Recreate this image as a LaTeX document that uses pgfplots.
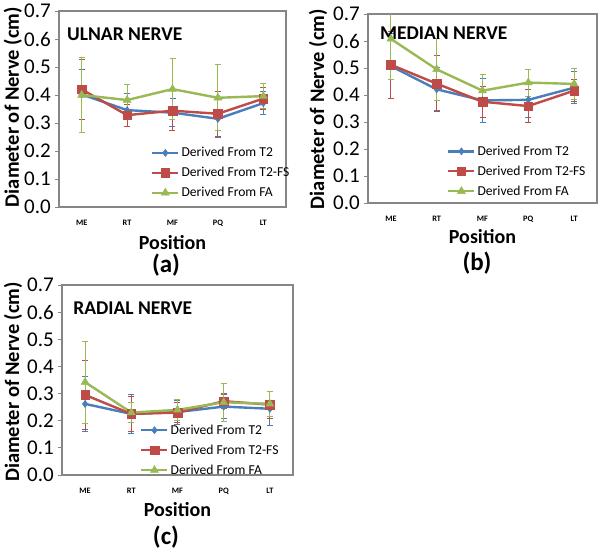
\documentclass[border=0pt]{standalone}
\usepackage{pgfplots}
\pgfplotsset{compat=1.18}
\usepackage{pgfplotstable}
\usepackage{fontspec}
\setmainfont{Carlito}
\definecolor{cblue}{HTML}{4A7EBB}
\definecolor{cred}{HTML}{BE4B48}
\definecolor{cgreen}{HTML}{98B954}
\definecolor{cframe}{HTML}{868686}

\pgfplotstableread{
x t2 et2 fs efs fa efa
0 0.402 0.090 0.420 0.107 0.400 0.133
1 0.346 0.058 0.328 0.040 0.382 0.056
2 0.337 0.050 0.344 0.071 0.421 0.108
3 0.315 0.068 0.333 0.080 0.390 0.118
4 0.371 0.040 0.387 0.040 0.396 0.044
}\ulnar
\pgfplotstableread{
x t2 et2 fs efs fa efa
0 0.507 0.120 0.512 0.124 0.608 0.150
1 0.421 0.080 0.442 0.103 0.495 0.115
2 0.380 0.082 0.375 0.058 0.416 0.060
3 0.382 0.066 0.359 0.062 0.446 0.050
4 0.427 0.060 0.416 0.040 0.441 0.058
}\median
\pgfplotstableread{
x t2 et2 fs efs fa efa
0 0.262 0.100 0.295 0.128 0.342 0.151
1 0.225 0.073 0.225 0.064 0.230 0.036
2 0.232 0.044 0.230 0.038 0.240 0.040
3 0.252 0.045 0.272 0.027 0.268 0.070
4 0.244 0.063 0.259 0.050 0.262 0.047
}\radial

\pgfplotsset{
  nerve/.style={
    scale only axis,
    xmin=-0.5, xmax=4.5, ymin=0, ymax=0.7,
    xtick={0,1,2,3,4}, xticklabels={ME,RT,MF,PQ,LT},
    ytick={0,0.1,0.2,0.3,0.4,0.5,0.6,0.7},
    /pgf/number format/assume math mode=true,
    /pgf/number format/fixed, /pgf/number format/fixed zerofill, /pgf/number format/precision=1,
    axis line style={cframe, line width=1.3pt},
    tick align=outside, ytick pos=left, xtick pos=bottom,
    major tick length=4pt,
    ytick style={cframe, line width=0.8pt},
    xtick style={draw=none},
    yticklabel style={font=\fontsize{21}{21}\selectfont, inner sep=0pt, xshift=-4pt},
    xticklabel style={font=\bfseries\fontsize{8.3}{9}\selectfont, inner sep=0pt, yshift=-9pt},
    ylabel={Diameter of Nerve (cm)},
    xlabel={Position},
    ylabel style={font=\bfseries\fontsize{20.5}{21}\selectfont, rotate=0},
    xlabel style={font=\bfseries\fontsize{20}{21}\selectfont, at={(axis description cs:0.5,-0.18)}, anchor=center},
    legend style={draw=none, fill=none, inner sep=0pt, font=\fontsize{13.6}{14}\selectfont,
      anchor=north west, row sep=5pt, /tikz/every even column/.append style={column sep=1pt}},
    legend cell align=left,
    legend image code/.code={\draw[mark repeat=2,mark phase=2,#1] plot coordinates {(0pt,0pt)(13pt,0pt)(26pt,0pt)};},
    error bars/y dir=both, error bars/y explicit,
    error bars/error bar style={line width=0.9pt},
    error bars/error mark options={rotate=90, mark size=3pt, line width=0.9pt},
  },
  st2/.style={cblue, line width=2.4pt, mark=diamond*, mark size=3.6pt, mark options={fill=cblue, draw=cblue, line width=0.5pt}},
  sfs/.style={cred, line width=2.4pt, mark=square*, mark size=4.3pt, mark options={fill=cred, draw=cred, line width=0.5pt}},
  sfa/.style={cgreen, line width=2.4pt, mark=triangle*, mark size=4.6pt, mark options={fill=cgreen, draw=cgreen, line width=0.5pt}},
}

\begin{document}
\begin{tikzpicture}
\path[use as bounding box] (0,0) rectangle (602pt,551pt);

% (a) Ulnar
\begin{axis}[nerve, at={(59pt,344pt)}, anchor=south west, width=227pt, height=196pt,
  ylabel style={at={(axis description cs:-0.203,0.51)}, anchor=center},
  legend style={at={(axis description cs:0.405,0.315)}}]
\addplot[st2] table[x=x,y=t2,y error=et2] {\ulnar};
\addplot[sfs] table[x=x,y=fs,y error=efs] {\ulnar};
\addplot[sfa] table[x=x,y=fa,y error=efa] {\ulnar};
\legend{Derived From T2, Derived From T2-FS, Derived From FA}
\node[anchor=west, font=\bfseries\fontsize{19.5}{20}\selectfont, inner sep=0pt] at (axis description cs:0.035,0.883) {ULNAR NERVE};
\end{axis}

% (b) Median
\begin{axis}[nerve, at={(368pt,348pt)}, anchor=south west, width=229pt, height=189pt,
  ylabel style={at={(axis description cs:-0.218,0.497)}, anchor=center},
  legend style={at={(axis description cs:0.345,0.314)}}]
\addplot[st2] table[x=x,y=t2,y error=et2] {\median};
\addplot[sfs] table[x=x,y=fs,y error=efs] {\median};
\addplot[sfa] table[x=x,y=fa,y error=efa] {\median};
\legend{Derived From T2, Derived From T2-FS, Derived From FA}
\node[anchor=west, font=\bfseries\fontsize{19.5}{20}\selectfont, inner sep=0pt] at (axis description cs:0.052,0.9) {MEDIAN NERVE};
\end{axis}

% (c) Radial
\begin{axis}[nerve, at={(62pt,76pt)}, anchor=south west, width=231pt, height=190pt,
  ylabel style={at={(axis description cs:-0.212,0.49)}, anchor=center},
  legend style={at={(axis description cs:0.338,0.276)}}]
\addplot[st2] table[x=x,y=t2,y error=et2] {\radial};
\addplot[sfs] table[x=x,y=fs,y error=efs] {\radial};
\addplot[sfa] table[x=x,y=fa,y error=efa] {\radial};
\legend{Derived From T2, Derived From T2-FS, Derived From FA}
\node[anchor=west, font=\bfseries\fontsize{19.5}{20}\selectfont, inner sep=0pt] at (axis description cs:0.048,0.879) {RADIAL NERVE};
\end{axis}

\node[font=\bfseries\fontsize{25}{26}\selectfont] at (166pt,286pt) {(a)};
\node[font=\bfseries\fontsize{25}{26}\selectfont] at (477pt,288pt) {(b)};
\node[font=\bfseries\fontsize{25}{26}\selectfont] at (166pt,14pt) {(c)};
\end{tikzpicture}
\end{document}
